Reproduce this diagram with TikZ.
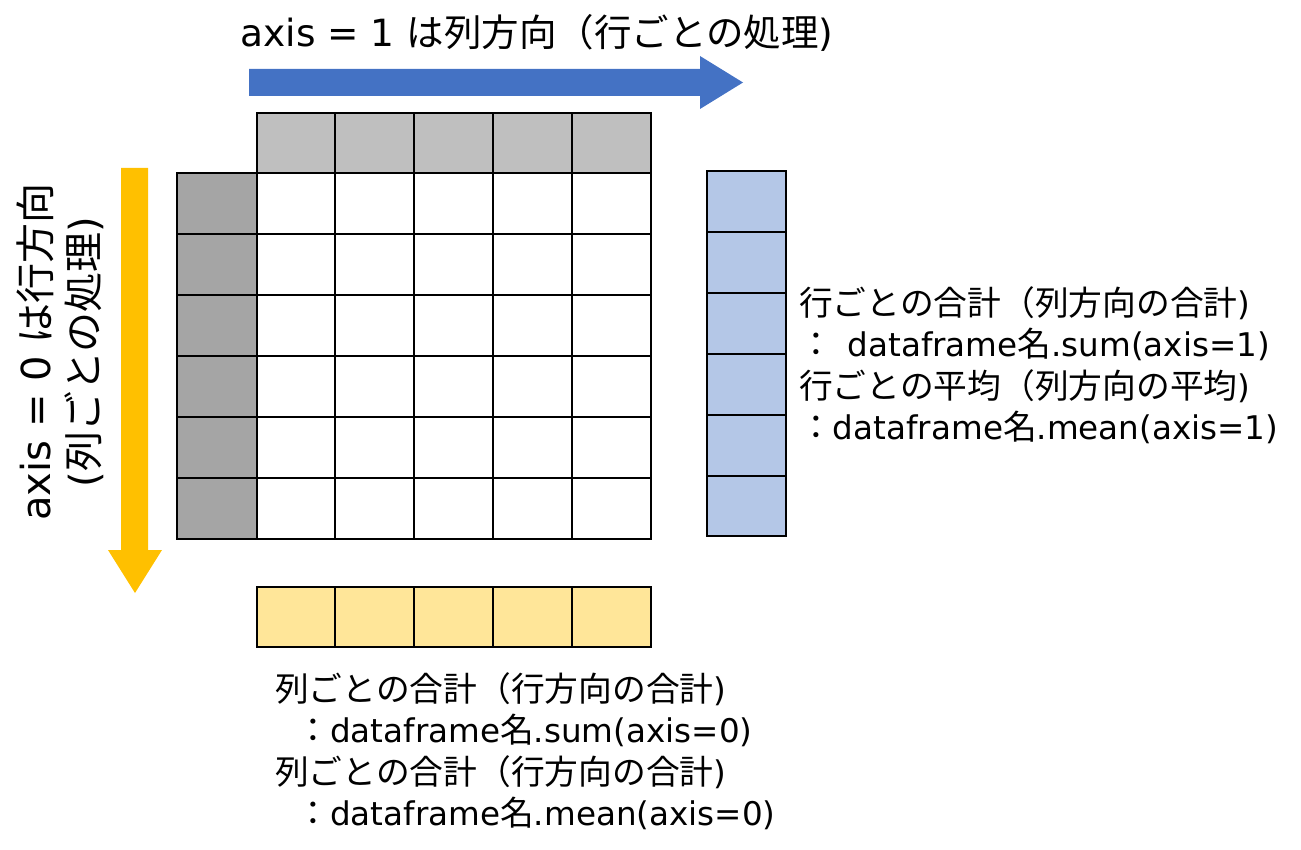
\documentclass[tikz,border=0pt]{standalone}
\usepackage{fontspec}
\setmainfont{DejaVu Sans}
\newfontfamily\jp{Noto Sans CJK JP}
\newfontfamily\jpn[Scale=1.035]{Noto Sans CJK JP}
\definecolor{axisblue}{HTML}{4472C4}
\definecolor{axisorange}{HTML}{FFC000}
\definecolor{hdrgray}{HTML}{BFBFBF}
\definecolor{idxgray}{HTML}{A5A5A5}
\definecolor{sumblue}{HTML}{B4C7E7}
\definecolor{sumyellow}{HTML}{FFE699}
\tikzset{
  cellbox/.style={draw=black, line width=2pt},
  lbl/.style={inner sep=0pt, font=\fontsize{37.5}{44}\selectfont},
  vlbl/.style={inner sep=0pt, rotate=90, font=\fontsize{40}{46}\selectfont},
  note/.style={inner sep=0pt, align=left, anchor=north west, font=\fontsize{32.6}{41.5}\selectfont}
}
\begin{document}
\begin{tikzpicture}[x=1pt,y=-1pt]
\useasboundingbox (0,0) rectangle (1301,850);
% blue arrow
\fill[axisblue] (249,69) -- (700,69) -- (700,56) -- (743,82.5) -- (700,109) -- (700,96) -- (249,96) -- cycle;
% orange arrow
\fill[axisorange] (121,168) -- (148,168) -- (148,550) -- (162,550) -- (135,593) -- (108,550) -- (121,550) -- cycle;
% header row
\foreach \a/\b in {257/335,335/414,414/493,493/572,572/651}
  \draw[cellbox, fill=hdrgray] (\a,113) rectangle (\b,173);
% index column and grid
\foreach \r/\s in {173/234,234/295,295/356,356/417,417/478,478/539}{
  \draw[cellbox, fill=idxgray] (177,\r) rectangle (257,\s);
  \foreach \a/\b in {257/335,335/414,414/493,493/572,572/651}
    \draw[cellbox, fill=white] (\a,\r) rectangle (\b,\s);
}
% row results
\foreach \r/\s in {171/232,232/293,293/354,354/415,415/476,476/536}
  \draw[cellbox, fill=sumblue] (707,\r) rectangle (786,\s);
% column results
\foreach \a/\b in {257/335,335/414,414/493,493/572,572/651}
  \draw[cellbox, fill=sumyellow] (\a,587) rectangle (\b,647);
% labels
\node[lbl] (top) at (537,33) {axis = 1 {\jp は列方向（行ごとの処理})};
\node[vlbl] (left1) at (35,352) {axis = 0 {\jp は行方向}};
\node[vlbl] (left2) at (84,352) {({\jp 列ごとの処理})};
\node[note] (rnote) at (799,286) {{\jpn 行ごとの合計（列方向の合計})\\
{\jpn ：}\hspace{0.45em}dataframe{\jpn 名}.sum(axis=1)\\
{\jpn 行ごとの平均（列方向の平均})\\
{\jpn ：}dataframe{\jpn 名}.mean(axis=1)};
\node[note] (bnote) at (275,672) {{\jpn 列ごとの合計（行方向の合計})\\
\hspace*{0.65em}{\jpn ：}dataframe{\jpn 名}.sum(axis=0)\\
{\jpn 列ごとの合計（行方向の合計})\\
\hspace*{0.65em}{\jpn ：}dataframe{\jpn 名}.mean(axis=0)};
\end{tikzpicture}
\end{document}
